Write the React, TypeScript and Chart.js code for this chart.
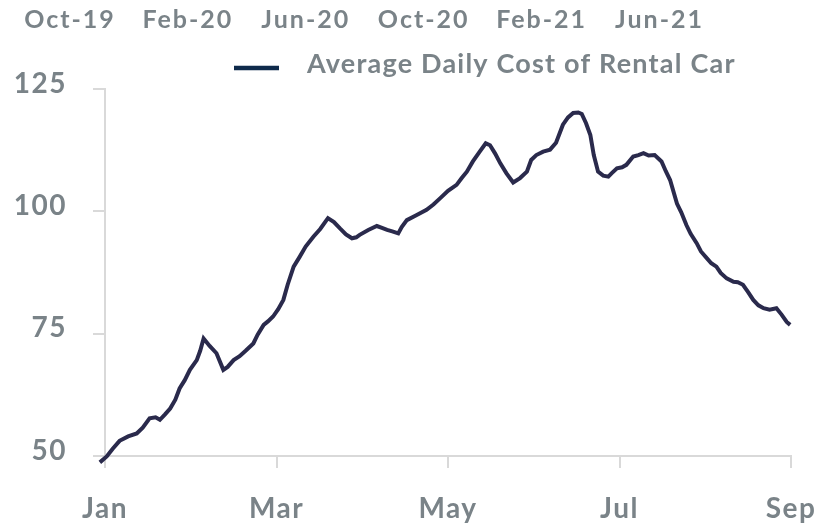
import React, { useEffect, useRef } from "react";
import { Chart, registerables } from "chart.js";

Chart.register(...registerables);

// x position in months since Jan 1 (0 = Jan, 2 = Mar, ... 8 = Sep)
const monthPos: number[] = [
  -0.14, -0.06, 0.02, 0.09, 0.17, 0.27, 0.37, 0.44, 0.52, 0.59, 0.64, 0.7, 0.76, 0.82, 0.87, 0.93,
  0.99, 1.07, 1.11, 1.15, 1.22, 1.3, 1.38, 1.43, 1.5, 1.57, 1.64, 1.73, 1.78, 1.85, 1.9, 1.96,
  2.02, 2.08, 2.13, 2.2, 2.27, 2.34, 2.43, 2.51, 2.6, 2.67, 2.74, 2.81, 2.88, 2.93, 2.97, 3.07,
  3.17, 3.23, 3.29, 3.35, 3.42, 3.46, 3.52, 3.63, 3.75, 3.83, 3.91, 4.0, 4.1, 4.16, 4.22, 4.29,
  4.37, 4.44, 4.49, 4.55, 4.61, 4.68, 4.76, 4.84, 4.92, 4.97, 5.03, 5.11, 5.19, 5.26, 5.34, 5.4,
  5.46, 5.52, 5.56, 5.61, 5.66, 5.7, 5.75, 5.81, 5.87, 5.91, 5.97, 6.03, 6.08, 6.16, 6.22, 6.28,
  6.34, 6.41, 6.49, 6.54, 6.59, 6.67, 6.72, 6.78, 6.83, 6.9, 6.95, 7.02, 7.07, 7.13, 7.18, 7.25,
  7.33, 7.38, 7.44, 7.5, 7.56, 7.62, 7.68, 7.75, 7.83, 7.89, 7.95, 7.99,
];

const avgCost: number[] = [
  47.5, 48.7, 49.9, 51.5, 53.1, 54.0, 54.6, 55.8, 57.7, 57.9, 57.4, 58.5, 59.7, 61.5, 63.8, 65.5,
  67.6, 69.6, 71.5, 74.0, 72.5, 71.0, 67.6, 68.2, 69.6, 70.4, 71.5, 73.0, 74.8, 76.8, 77.5, 78.5,
  80.0, 81.9, 85.0, 88.7, 90.7, 92.8, 94.8, 96.4, 98.6, 97.8, 96.5, 95.3, 94.5, 94.7, 95.2, 96.2,
  97.0, 96.6, 96.2, 95.9, 95.5, 96.8, 98.2, 99.2, 100.3, 101.4, 102.7, 104.2, 105.4, 106.8, 108.1, 110.2,
  112.2, 113.9, 113.5, 111.8, 109.8, 107.8, 105.9, 106.8, 108.1, 110.5, 111.5, 112.2, 112.6, 114.0, 117.7, 119.2,
  120.1, 120.2, 119.9, 118.0, 115.6, 111.5, 108.1, 107.3, 107.1, 107.8, 108.8, 109.0, 109.5, 111.2, 111.5, 111.9,
  111.4, 111.5, 110.2, 108.2, 106.4, 101.6, 99.8, 97.2, 95.4, 93.5, 91.8, 90.4, 89.4, 88.7, 87.4, 86.3,
  85.6, 85.5, 85.0, 83.5, 81.9, 80.8, 80.2, 79.9, 80.2, 78.9, 77.4, 76.8,
];

const monthTicks: number[] = [0, 2, 4, 6, 8];
const monthLabels: string[] = ["Jan", "Mar", "May", "Jul", "Sep"];
const valueTicks: number[] = [50, 75, 100, 125];
const topLabels: string[] = ["Oct-19", "Feb-20", "Jun-20", "Oct-20", "Feb-21", "Jun-21"];
const seriesName = "Average Daily Cost of Rental Car";

const GRAY_TEXT = "#7a8388";
const AXIS_GRAY = "#d9d9d9";
const LINE_COLOR = "#2a2a4c";
const LEGEND_COLOR = "#0e2a4b";

const decorPlugin = {
  id: "decor",
  beforeDraw(chart: any) {
    chart.ctx.letterSpacing = "1.5px";
  },
  afterDraw(chart: any) {
    const ctx = chart.ctx;
    ctx.save();
    ctx.letterSpacing = "2px";
    ctx.fillStyle = GRAY_TEXT;
    ctx.font = "bold 25px Lato";
    ctx.textAlign = "left";
    ctx.textBaseline = "alphabetic";
    topLabels.forEach((t, i) => {
      const w = ctx.measureText(t).width - 2;
      ctx.fillText(t, 69 + i * 117.9 - w / 2, 28);
    });
    // legend
    ctx.strokeStyle = LEGEND_COLOR;
    ctx.lineWidth = 4.5;
    ctx.beginPath();
    ctx.moveTo(234, 68);
    ctx.lineTo(279, 68);
    ctx.stroke();
    ctx.letterSpacing = "1.2px";
    ctx.font = "bold 27px Lato";
    ctx.fillText(seriesName, 307, 73);
    ctx.restore();
  },
};

export default function App() {
  const ref = useRef<HTMLCanvasElement | null>(null);
  useEffect(() => {
    if (!ref.current) return;
    const data = monthPos.map((m, i) => ({ x: m, y: avgCost[i] }));
    const chart = new Chart(ref.current, {
      type: "line",
      data: {
        datasets: [
          {
            label: seriesName,
            data,
            borderColor: LINE_COLOR,
            borderWidth: 4,
            pointRadius: 0,
            tension: 0,
            fill: false,
            clip: false as any,
          },
        ],
      },
      options: {
        animation: false,
        responsive: true,
        maintainAspectRatio: false,
        layout: { padding: { top: 89, right: 0, left: 0, bottom: 0 } },
        plugins: {
          legend: { display: false },
          tooltip: { enabled: false },
        },
        scales: {
          x: {
            type: "linear",
            min: 0,
            max: 8,
            afterBuildTicks: (scale: any) => {
              scale.ticks = monthTicks.map((v) => ({ value: v }));
            },
            afterFit: (scale: any) => {
              scale.height = 67;
              scale.paddingRight = 26;
              scale.paddingLeft = 0;
            },
            ticks: {
              callback: (v: any) => monthLabels[monthTicks.indexOf(Number(v))] ?? "",
              color: GRAY_TEXT,
              font: { family: "Lato", size: 28, weight: "bold" },
              padding: 24,
              maxRotation: 0,
            },
            grid: {
              display: true,
              drawOnChartArea: false,
              drawTicks: true,
              tickLength: 12,
              color: AXIS_GRAY,
              lineWidth: 2,
            },
            border: { display: true, color: AXIS_GRAY, width: 2 },
          },
          y: {
            type: "linear",
            min: 50,
            max: 125,
            afterBuildTicks: (scale: any) => {
              scale.ticks = valueTicks.map((v) => ({ value: v }));
            },
            afterFit: (scale: any) => {
              scale.width = 105;
            },
            ticks: {
              color: GRAY_TEXT,
              font: { family: "Lato", size: 28, weight: "bold" },
              padding: 26,
              labelOffset: -5.5,
            },
            grid: {
              display: true,
              drawOnChartArea: false,
              drawTicks: true,
              tickLength: 12,
              color: AXIS_GRAY,
              lineWidth: 2,
            },
            border: { display: true, color: AXIS_GRAY, width: 2 },
          },
        },
      },
      plugins: [decorPlugin],
    });
    return () => chart.destroy();
  }, []);
  return (
    <div style={{ position: "absolute", left: 0, top: 0, width: 817, height: 523, background: "#fff" }}>
      <canvas ref={ref} />
    </div>
  );
}
